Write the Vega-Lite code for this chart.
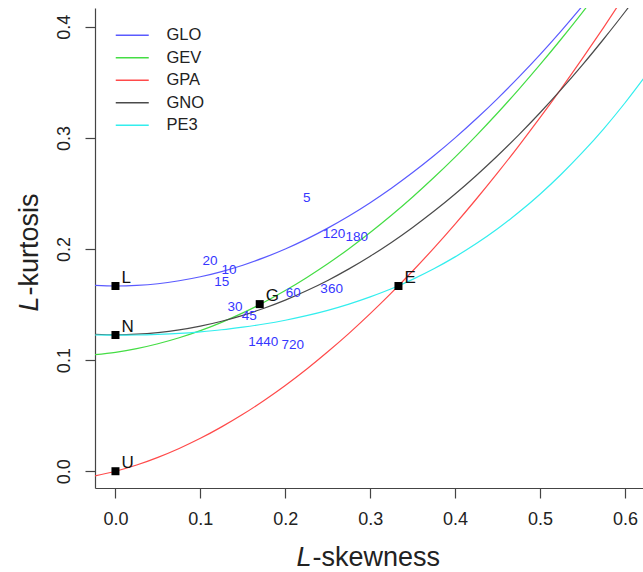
{
  "$schema": "https://vega.github.io/schema/vega-lite/v6.json",
  "width": 548,
  "height": 480,
  "autosize": {"type": "none"},
  "padding": {"left": 95, "top": 8, "right": 0, "bottom": 84},
  "background": "white",
  "config": {
    "view": {"stroke": null},
    "font": "Liberation Sans",
    "axis": {
      "grid": false,
      "domainColor": "#444444",
      "domainWidth": 1.2,
      "tickColor": "#444444",
      "tickWidth": 1.2,
      "tickSize": 10,
      "labelFont": "Liberation Sans",
      "labelFontSize": 18,
      "labelColor": "#222222",
      "titleFont": "Liberation Sans",
      "titleFontSize": 27,
      "titleFontWeight": "normal",
      "titleColor": "#222222",
      "titleBaseline": "alphabetic"
    },
    "legend": {
      "labelFont": "Liberation Sans",
      "labelFontSize": 16.5,
      "labelColor": "#222222"
    }
  },
  "resolve": {"axis": {"x": "independent", "y": "independent"}},
  "datasets": {
    "curves": [
      {"t": -0.025, "tau4": 0.1672, "dist": "GLO"},
      {"t": 0, "tau4": 0.1667, "dist": "GLO"},
      {"t": 0.025, "tau4": 0.1672, "dist": "GLO"},
      {"t": 0.05, "tau4": 0.1687, "dist": "GLO"},
      {"t": 0.075, "tau4": 0.1714, "dist": "GLO"},
      {"t": 0.1, "tau4": 0.175, "dist": "GLO"},
      {"t": 0.125, "tau4": 0.1797, "dist": "GLO"},
      {"t": 0.15, "tau4": 0.1854, "dist": "GLO"},
      {"t": 0.175, "tau4": 0.1922, "dist": "GLO"},
      {"t": 0.2, "tau4": 0.2, "dist": "GLO"},
      {"t": 0.225, "tau4": 0.2089, "dist": "GLO"},
      {"t": 0.25, "tau4": 0.2188, "dist": "GLO"},
      {"t": 0.275, "tau4": 0.2297, "dist": "GLO"},
      {"t": 0.3, "tau4": 0.2417, "dist": "GLO"},
      {"t": 0.325, "tau4": 0.2547, "dist": "GLO"},
      {"t": 0.35, "tau4": 0.2688, "dist": "GLO"},
      {"t": 0.375, "tau4": 0.2839, "dist": "GLO"},
      {"t": 0.4, "tau4": 0.3, "dist": "GLO"},
      {"t": 0.425, "tau4": 0.3172, "dist": "GLO"},
      {"t": 0.45, "tau4": 0.3354, "dist": "GLO"},
      {"t": 0.475, "tau4": 0.3547, "dist": "GLO"},
      {"t": 0.5, "tau4": 0.375, "dist": "GLO"},
      {"t": 0.525, "tau4": 0.3964, "dist": "GLO"},
      {"t": 0.55, "tau4": 0.4188, "dist": "GLO"},
      {"t": 0.575, "tau4": 0.4422, "dist": "GLO"},

      {"t": -0.025, "tau4": 0.1048, "dist": "GEV"},
      {"t": 0, "tau4": 0.107, "dist": "GEV"},
      {"t": 0.025, "tau4": 0.1103, "dist": "GEV"},
      {"t": 0.05, "tau4": 0.1147, "dist": "GEV"},
      {"t": 0.075, "tau4": 0.1201, "dist": "GEV"},
      {"t": 0.1, "tau4": 0.1265, "dist": "GEV"},
      {"t": 0.125, "tau4": 0.134, "dist": "GEV"},
      {"t": 0.15, "tau4": 0.1425, "dist": "GEV"},
      {"t": 0.175, "tau4": 0.152, "dist": "GEV"},
      {"t": 0.2, "tau4": 0.1626, "dist": "GEV"},
      {"t": 0.225, "tau4": 0.1742, "dist": "GEV"},
      {"t": 0.25, "tau4": 0.1867, "dist": "GEV"},
      {"t": 0.275, "tau4": 0.2003, "dist": "GEV"},
      {"t": 0.3, "tau4": 0.2148, "dist": "GEV"},
      {"t": 0.325, "tau4": 0.2303, "dist": "GEV"},
      {"t": 0.35, "tau4": 0.2468, "dist": "GEV"},
      {"t": 0.375, "tau4": 0.2643, "dist": "GEV"},
      {"t": 0.4, "tau4": 0.2827, "dist": "GEV"},
      {"t": 0.425, "tau4": 0.3021, "dist": "GEV"},
      {"t": 0.45, "tau4": 0.3224, "dist": "GEV"},
      {"t": 0.475, "tau4": 0.3437, "dist": "GEV"},
      {"t": 0.5, "tau4": 0.3659, "dist": "GEV"},
      {"t": 0.525, "tau4": 0.389, "dist": "GEV"},
      {"t": 0.55, "tau4": 0.413, "dist": "GEV"},
      {"t": 0.575, "tau4": 0.4379, "dist": "GEV"},

      {"t": -0.025, "tau4": -0.0044, "dist": "GPA"},
      {"t": 0, "tau4": 0, "dist": "GPA"},
      {"t": 0.025, "tau4": 0.0056, "dist": "GPA"},
      {"t": 0.05, "tau4": 0.0125, "dist": "GPA"},
      {"t": 0.075, "tau4": 0.0205, "dist": "GPA"},
      {"t": 0.1, "tau4": 0.0296, "dist": "GPA"},
      {"t": 0.125, "tau4": 0.0399, "dist": "GPA"},
      {"t": 0.15, "tau4": 0.0512, "dist": "GPA"},
      {"t": 0.175, "tau4": 0.0637, "dist": "GPA"},
      {"t": 0.2, "tau4": 0.0772, "dist": "GPA"},
      {"t": 0.225, "tau4": 0.0918, "dist": "GPA"},
      {"t": 0.25, "tau4": 0.1075, "dist": "GPA"},
      {"t": 0.275, "tau4": 0.1241, "dist": "GPA"},
      {"t": 0.3, "tau4": 0.1418, "dist": "GPA"},
      {"t": 0.325, "tau4": 0.1605, "dist": "GPA"},
      {"t": 0.35, "tau4": 0.1802, "dist": "GPA"},
      {"t": 0.375, "tau4": 0.2008, "dist": "GPA"},
      {"t": 0.4, "tau4": 0.2224, "dist": "GPA"},
      {"t": 0.425, "tau4": 0.245, "dist": "GPA"},
      {"t": 0.45, "tau4": 0.2685, "dist": "GPA"},
      {"t": 0.475, "tau4": 0.2929, "dist": "GPA"},
      {"t": 0.5, "tau4": 0.3182, "dist": "GPA"},
      {"t": 0.525, "tau4": 0.3444, "dist": "GPA"},
      {"t": 0.55, "tau4": 0.3715, "dist": "GPA"},
      {"t": 0.575, "tau4": 0.3995, "dist": "GPA"},
      {"t": 0.6, "tau4": 0.4284, "dist": "GPA"},

      {"t": -0.025, "tau4": 0.1233, "dist": "GNO"},
      {"t": 0, "tau4": 0.1228, "dist": "GNO"},
      {"t": 0.025, "tau4": 0.1233, "dist": "GNO"},
      {"t": 0.05, "tau4": 0.1248, "dist": "GNO"},
      {"t": 0.075, "tau4": 0.1272, "dist": "GNO"},
      {"t": 0.1, "tau4": 0.1306, "dist": "GNO"},
      {"t": 0.125, "tau4": 0.135, "dist": "GNO"},
      {"t": 0.15, "tau4": 0.1403, "dist": "GNO"},
      {"t": 0.175, "tau4": 0.1467, "dist": "GNO"},
      {"t": 0.2, "tau4": 0.154, "dist": "GNO"},
      {"t": 0.225, "tau4": 0.1624, "dist": "GNO"},
      {"t": 0.25, "tau4": 0.1717, "dist": "GNO"},
      {"t": 0.275, "tau4": 0.1821, "dist": "GNO"},
      {"t": 0.3, "tau4": 0.1935, "dist": "GNO"},
      {"t": 0.325, "tau4": 0.2059, "dist": "GNO"},
      {"t": 0.35, "tau4": 0.2194, "dist": "GNO"},
      {"t": 0.375, "tau4": 0.2339, "dist": "GNO"},
      {"t": 0.4, "tau4": 0.2495, "dist": "GNO"},
      {"t": 0.425, "tau4": 0.2662, "dist": "GNO"},
      {"t": 0.45, "tau4": 0.2839, "dist": "GNO"},
      {"t": 0.475, "tau4": 0.3027, "dist": "GNO"},
      {"t": 0.5, "tau4": 0.3226, "dist": "GNO"},
      {"t": 0.525, "tau4": 0.3436, "dist": "GNO"},
      {"t": 0.55, "tau4": 0.3657, "dist": "GNO"},
      {"t": 0.575, "tau4": 0.389, "dist": "GNO"},
      {"t": 0.6, "tau4": 0.4133, "dist": "GNO"},
      {"t": 0.625, "tau4": 0.4389, "dist": "GNO"},

      {"t": -0.025, "tau4": 0.1226, "dist": "PE3"},
      {"t": 0, "tau4": 0.1224, "dist": "PE3"},
      {"t": 0.025, "tau4": 0.1226, "dist": "PE3"},
      {"t": 0.05, "tau4": 0.1232, "dist": "PE3"},
      {"t": 0.075, "tau4": 0.1241, "dist": "PE3"},
      {"t": 0.1, "tau4": 0.1255, "dist": "PE3"},
      {"t": 0.125, "tau4": 0.1273, "dist": "PE3"},
      {"t": 0.15, "tau4": 0.1297, "dist": "PE3"},
      {"t": 0.175, "tau4": 0.1325, "dist": "PE3"},
      {"t": 0.2, "tau4": 0.1359, "dist": "PE3"},
      {"t": 0.225, "tau4": 0.14, "dist": "PE3"},
      {"t": 0.25, "tau4": 0.1448, "dist": "PE3"},
      {"t": 0.275, "tau4": 0.1504, "dist": "PE3"},
      {"t": 0.3, "tau4": 0.1569, "dist": "PE3"},
      {"t": 0.325, "tau4": 0.1642, "dist": "PE3"},
      {"t": 0.35, "tau4": 0.1727, "dist": "PE3"},
      {"t": 0.375, "tau4": 0.1822, "dist": "PE3"},
      {"t": 0.4, "tau4": 0.1929, "dist": "PE3"},
      {"t": 0.425, "tau4": 0.2049, "dist": "PE3"},
      {"t": 0.45, "tau4": 0.2182, "dist": "PE3"},
      {"t": 0.475, "tau4": 0.233, "dist": "PE3"},
      {"t": 0.5, "tau4": 0.2493, "dist": "PE3"},
      {"t": 0.525, "tau4": 0.2673, "dist": "PE3"},
      {"t": 0.55, "tau4": 0.2869, "dist": "PE3"},
      {"t": 0.575, "tau4": 0.3082, "dist": "PE3"},
      {"t": 0.6, "tau4": 0.3314, "dist": "PE3"},
      {"t": 0.625, "tau4": 0.3565, "dist": "PE3"}
    ],
    "special": [
      {"t": 0, "tau4": 0.1667, "name": "L"},
      {"t": 0, "tau4": 0.1226, "name": "N"},
      {"t": 0, "tau4": 0, "name": "U"},
      {"t": 0.1699, "tau4": 0.1504, "name": "G"},
      {"t": 0.3333, "tau4": 0.1667, "name": "E"}
    ],
    "durations": [
      {"t": 0.2252, "tau4": 0.2456, "minutes": "5"},
      {"t": 0.2574, "tau4": 0.2132, "minutes": "120"},
      {"t": 0.2841, "tau4": 0.2111, "minutes": "180"},
      {"t": 0.1113, "tau4": 0.1892, "minutes": "20"},
      {"t": 0.1337, "tau4": 0.1811, "minutes": "10"},
      {"t": 0.1251, "tau4": 0.17, "minutes": "15"},
      {"t": 0.1408, "tau4": 0.1481, "minutes": "30"},
      {"t": 0.1576, "tau4": 0.1397, "minutes": "45"},
      {"t": 0.2094, "tau4": 0.1601, "minutes": "60"},
      {"t": 0.2546, "tau4": 0.164, "minutes": "360"},
      {"t": 0.1741, "tau4": 0.1166, "minutes": "1440"},
      {"t": 0.2087, "tau4": 0.1136, "minutes": "720"}
    ]
  },
  "layer": [
    {
      "mark": {"type": "rule", "color": "#555555", "strokeWidth": 1.2},
      "encoding": {"x": {"datum": 0, "type": "quantitative", "axis": null}}
    },
    {
      "mark": {"type": "rule", "color": "#555555", "strokeWidth": 1.2},
      "encoding": {"y": {"datum": 0, "type": "quantitative", "axis": null}}
    },
    {
      "mark": {"type": "rule", "color": "#333333", "strokeWidth": 1.2},
      "encoding": {"y": {"datum": 0.4169, "type": "quantitative", "axis": null}}
    },
    {
      "data": {"name": "curves"},
      "mark": {"type": "line", "strokeWidth": 1.2, "clip": true, "interpolate": "monotone"},
      "encoding": {
        "x": {
          "field": "t",
          "type": "quantitative",
          "scale": {"domain": [-0.0241, 0.6213], "nice": false, "zero": false},
          "axis": {
            "orient": "bottom",
            "values": [0, 0.1, 0.2, 0.3, 0.4, 0.5, 0.6],
            "format": ".1f",
            "labelPadding": 12,
            "title": "-skewness",
            "titleAlign": "left",
            "titleX": 217,
            "titleY": 77
          }
        },
        "y": {
          "field": "tau4",
          "type": "quantitative",
          "scale": {"domain": [-0.0151, 0.4169], "nice": false, "zero": false},
          "axis": {
            "orient": "left",
            "values": [0, 0.1, 0.2, 0.3, 0.4],
            "format": ".1f",
            "labelAngle": 270,
            "labelAlign": "center",
            "labelBaseline": "bottom",
            "labelPadding": 12,
            "title": "-kurtosis",
            "titleAngle": 270,
            "titleAlign": "left",
            "titleX": -58,
            "titleY": 287
          }
        },
        "color": {
          "field": "dist",
          "type": "nominal",
          "scale": {
            "domain": ["GLO", "GEV", "GPA", "GNO", "PE3"],
            "range": ["#5a5aff", "#44dd44", "#ff4a4a", "#4a4a4a", "#33eeee"]
          },
          "legend": {
            "title": null,
            "orient": "none",
            "legendX": 29,
            "legendY": 19,
            "padding": 0,
            "symbolType": "M-3,0H3",
            "symbolSize": 121,
            "symbolStrokeWidth": 1.3,
            "labelOffset": 26,
            "rowPadding": 5.5
          }
        },
        "order": {"field": "t", "type": "quantitative"}
      }
    },
    {
      "data": {"name": "special"},
      "mark": {"type": "point", "shape": "square", "filled": true, "color": "black", "size": 64, "opacity": 1},
      "encoding": {
        "x": {
          "field": "t",
          "type": "quantitative",
          "axis": {
            "orient": "bottom",
            "domain": false,
            "ticks": false,
            "labels": false,
            "title": "L",
            "titleFontStyle": "italic",
            "titleAlign": "right",
            "titleX": 216,
            "titleY": 77
          }
        },
        "y": {
          "field": "tau4",
          "type": "quantitative",
          "axis": {
            "orient": "left",
            "domain": false,
            "ticks": false,
            "labels": false,
            "title": "L",
            "titleFontStyle": "italic",
            "titleAngle": 270,
            "titleAlign": "right",
            "titleX": -58,
            "titleY": 288
          }
        }
      }
    },
    {
      "data": {"name": "special"},
      "mark": {"type": "text", "align": "left", "baseline": "alphabetic", "dx": 6, "dy": -3, "fontSize": 17, "color": "#111111"},
      "encoding": {
        "x": {"field": "t", "type": "quantitative", "axis": null},
        "y": {"field": "tau4", "type": "quantitative", "axis": null},
        "text": {"field": "name"}
      }
    },
    {
      "data": {"name": "durations"},
      "mark": {"type": "text", "align": "center", "baseline": "middle", "fontSize": 13.5, "color": "#3636ff"},
      "encoding": {
        "x": {"field": "t", "type": "quantitative", "axis": null},
        "y": {"field": "tau4", "type": "quantitative", "axis": null},
        "text": {"field": "minutes"}
      }
    }
  ]
}
